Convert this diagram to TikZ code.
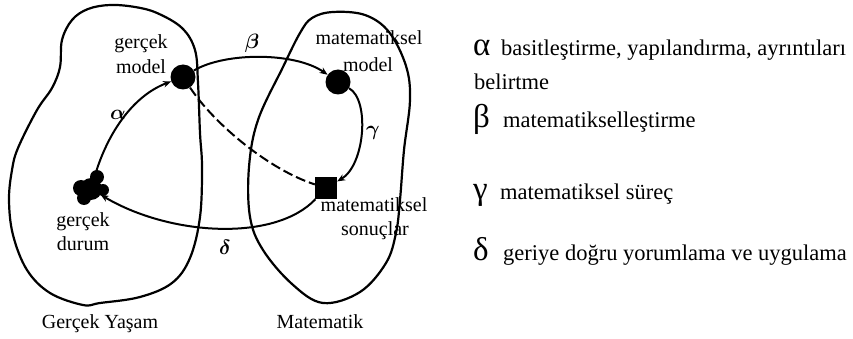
\documentclass[tikz,border=0pt]{standalone}
\usepackage{fontspec}
\setmainfont{Liberation Serif}
\usetikzlibrary{arrows.meta,calc}
\begin{document}
\begin{tikzpicture}[x=1pt,y=-1pt,
  blob/.style={line width=2.2pt, line join=round},
  arc/.style={line width=2pt},
  arr/.style={arc, -{Stealth[length=8pt,width=6.5pt]}},
  dot/.style={circle, fill=black, inner sep=0pt, minimum size=#1},
  dot/.default=25pt,
  sq/.style={rectangle, fill=black, inner sep=0pt, minimum size=22pt},
  lbl/.style={font=\fontsize{20}{24}\selectfont, inner sep=0pt, anchor=base},
  greek/.style={font=\boldmath\fontsize{20}{20}\selectfont, inner sep=0pt},
  legg/.style={font=\fontsize{33}{33}\selectfont, inner sep=0pt, anchor=base west},
  legt/.style={font=\fontsize{22.5}{27}\selectfont, inner sep=0pt, anchor=base west},
]
\useasboundingbox (0,0) rectangle (853,339);

% regions
\draw[blob] plot[smooth cycle, tension=0.6] coordinates {
 (110,5) (135,7) (157,13) (182,28) (195,50) (198,83) (200,133) (202,167)
 (200,217) (190,258) (172,283) (140,297) (100,303) (83,305) (50,293)
 (27,270) (13,235) (9,200) (12,170) (18,148) (37,110) (52,88) (60,67)
 (62,40) (72,20) (88,9)};
\draw[blob] plot[smooth cycle, tension=0.6] coordinates {
 (333,12) (365,15) (389,32) (406,66) (410,100) (404,150) (400,200)
 (396,233) (386,263) (360,292) (323,303) (292,284) (263,250) (250,217)
 (249,167) (258,120) (283,67) (300,33) (312,18)};

% states
\node[dot] (gm) at (183,77) {};
\node[dot] (mm) at (338,82) {};
\node[sq] (ms) at (326,188) {};
\node[dot=22pt] (gd) at (91,189) {};
\fill ($(gd)+(6,-12)$) circle (7pt);
\fill ($(gd)+(-10,-1)$) circle (8pt);
\fill ($(gd)+(-7,9)$) circle (7pt);
\fill ($(gd)+(12,1)$) circle (6pt);

% transitions
\draw[arr] (gd) .. controls (108,130) and (135,95) .. (gm);
\draw[arr] (gm) .. controls (225,52) and (295,52) .. (mm);
\draw[arr] (mm) .. controls (370,100) and (365,165) .. (ms);
\draw[arr] (ms) .. controls (275,242) and (170,236) .. (gd);
\draw[arc, dash pattern=on 10pt off 4pt] (gm) .. controls (215,125) and (270,170) .. (ms);

% transition labels
\node[greek] (a) at (118,115) {$\alpha$};
\node[greek] (b) at (252,43) {$\beta$};
\node[greek] (c) at (373,133) {$\gamma$};
\node[greek] (d) at (225,247) {$\delta$};

% state labels
\node[lbl] (gm1) at (141,49) {gerçek};
\node[lbl] (gm2) at (141,74) {model};
\node[lbl] (mm1) at (369,45) {matematiksel};
\node[lbl] (mm2) at (368,72) {model};
\node[lbl] (gd1) at (83,226) {gerçek};
\node[lbl] (gd2) at (83,250) {durum};
\node[lbl] (ms1) at (374,211) {matematiksel};
\node[lbl] (ms2) at (375,235) {sonuçlar};
\node[lbl] (gy) at (100,328) {Gerçek Yaşam};
\node[lbl] (mt) at (320,328) {Matematik};

% legend
\node[legg] (la) at (473,56) {α};
\node[legt] (lat) at (501,56) {basitleştirme, yapılandırma, ayrıntıları};
\node[legt] (lat2) at (474,90) {belirtme};
\node[legg] (lb) at (473,128) {β};
\node[legt] (lbt) at (503,128) {matematikselleştirme};
\node[legg] (lg) at (473,200) {γ};
\node[legt] (lgt) at (500,200) {matematiksel süreç};
\node[legg] (ld) at (473,260) {δ};
\node[legt] (ldt) at (503,260) {geriye doğru yorumlama ve uygulama};
\end{tikzpicture}
\end{document}
